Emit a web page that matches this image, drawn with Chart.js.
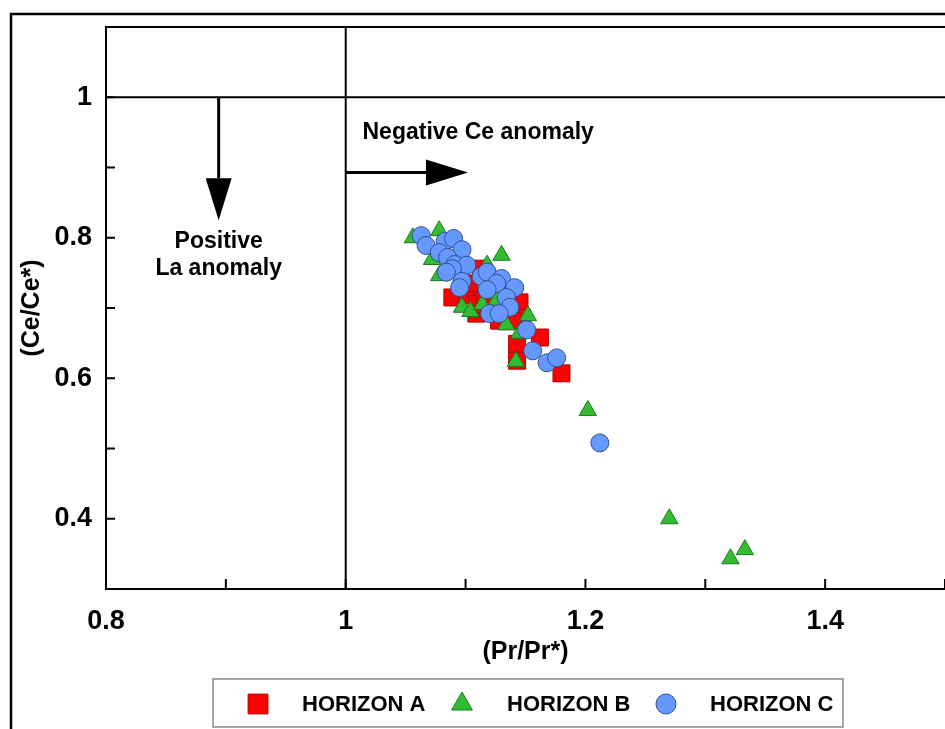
<!DOCTYPE html>
<html>
<head>
<meta charset="utf-8">
<script src="https://cdn.jsdelivr.net/npm/chart.js@4.4.1/dist/chart.umd.min.js"></script>
<style>
  html, body { margin: 0; padding: 0; background: #fff; }
  canvas { display: block; }
</style>
</head>
<body>
<canvas id="anomalyChart" width="945" height="729"></canvas>
<script>
// Pr/Pr* (x) and Ce/Ce* (y) per horizon
const horizonA_pr = [1.113, 1.089, 1.101, 1.109, 1.110, 1.128, 1.145, 1.147, 1.139, 1.162, 1.143, 1.143, 1.180, 1.103, 1.133, 1.116];
const horizonA_ce = [0.756, 0.715, 0.718, 0.692, 0.706, 0.682, 0.708, 0.686, 0.682, 0.658, 0.649, 0.625, 0.607, 0.735, 0.725, 0.711];

const horizonB_pr = [1.056, 1.078, 1.130, 1.072, 1.078, 1.118, 1.097, 1.104, 1.114, 1.126, 1.134, 1.152, 1.145, 1.142, 1.202, 1.270, 1.321, 1.333];
const horizonB_ce = [0.800, 0.810, 0.775, 0.769, 0.746, 0.761, 0.701, 0.695, 0.705, 0.711, 0.676, 0.689, 0.664, 0.624, 0.554, 0.400, 0.343, 0.356];

const horizonC_pr = [1.063, 1.067, 1.083, 1.090, 1.097, 1.078, 1.085, 1.091, 1.101, 1.089, 1.084, 1.097, 1.095, 1.113,
                     1.118, 1.130, 1.126, 1.118, 1.141, 1.134, 1.137, 1.120, 1.128, 1.151, 1.156, 1.168, 1.176, 1.212];
const horizonC_ce = [0.803, 0.789, 0.795, 0.799, 0.783, 0.779, 0.772, 0.762, 0.761, 0.756, 0.751, 0.738, 0.729, 0.745,
                     0.751, 0.742, 0.735, 0.726, 0.729, 0.715, 0.701, 0.692, 0.692, 0.669, 0.639, 0.622, 0.629, 0.508];

const seriesNames = ['HORIZON A', 'HORIZON B', 'HORIZON C'];

// labelled tick values (minor ticks every 0.1 stay unlabelled)
const xTickValues = [0.8, 1.0, 1.2, 1.4];
const xTickLabels = ['0.8', '1', '1.2', '1.4'];
const yTickValues = [0.4, 0.6, 0.8, 1.0];
const yTickLabels = ['0.4', '0.6', '0.8', '1'];

// reference lines at 1 and the anomaly arrows
const prReference = 1.0;
const ceReference = 1.0;
const laArrow = { pr: 0.894, ceFrom: 1.0, ceTo: 0.825 };
const ceArrow = { ce: 0.893, prFrom: 1.0, prTo: 1.102 };

const FONT = '"Liberation Sans", Arial, Helvetica, sans-serif';
Chart.defaults.font.family = FONT;

function zip(xs, ys) {
    return xs.map((x, i) => ({ x: x, y: ys[i] }));
}

function tickLabel(values, labels) {
    return function(value) {
        const i = values.findIndex(v => Math.abs(v - value) < 1e-6);
        return i >= 0 ? labels[i] : '';
    };
}

const STYLES = [
    { pointStyle: 'rect',     radius: 12, bg: '#ff0000', border: '#b00000' },
    { pointStyle: 'triangle', radius: 10, bg: '#33bb33', border: '#1d7a1d' },
    { pointStyle: 'circle',   radius: 9,  bg: '#6699ff', border: '#34508f' }
];

function drawArrow(ctx, x1, y1, x2, y2) {
    const headLen = 42, headHalf = 13;
    const ang = Math.atan2(y2 - y1, x2 - x1);
    const bx = x2 - headLen * Math.cos(ang);
    const by = y2 - headLen * Math.sin(ang);
    ctx.beginPath();
    ctx.moveTo(x1, y1);
    ctx.lineTo(bx, by);
    ctx.lineWidth = 3;
    ctx.stroke();
    ctx.beginPath();
    ctx.moveTo(x2, y2);
    ctx.lineTo(bx - headHalf * Math.sin(ang), by + headHalf * Math.cos(ang));
    ctx.lineTo(bx + headHalf * Math.sin(ang), by - headHalf * Math.cos(ang));
    ctx.closePath();
    ctx.fill();
}

// frame, reference lines, inward ticks, arrows and notes
const decorPlugin = {
    id: 'decor',
    beforeDraw(chart) {
        const ctx = chart.ctx;
        ctx.save();
        ctx.fillStyle = '#fff';
        ctx.fillRect(0, 0, chart.width, chart.height);
        ctx.restore();
    },
    beforeDatasetsDraw(chart) {
        const { ctx, chartArea: a, scales: { x, y } } = chart;
        ctx.save();
        ctx.strokeStyle = '#000';
        ctx.fillStyle = '#000';

        // inward ticks every 0.1
        ctx.lineWidth = 2;
        ctx.beginPath();
        x.ticks.forEach(t => {
            const px = x.getPixelForValue(t.value);
            ctx.moveTo(px, a.bottom);
            ctx.lineTo(px, a.bottom - 10);
        });
        y.ticks.forEach(t => {
            const py = y.getPixelForValue(t.value);
            ctx.moveTo(a.left, py);
            ctx.lineTo(a.left + 9, py);
        });
        ctx.stroke();

        // reference lines
        const px1 = x.getPixelForValue(prReference);
        const py1 = y.getPixelForValue(ceReference);
        ctx.beginPath();
        ctx.moveTo(px1, a.top);
        ctx.lineTo(px1, a.bottom);
        ctx.moveTo(a.left, py1);
        ctx.lineTo(a.right, py1);
        ctx.stroke();

        // plot border
        ctx.lineWidth = 2;
        ctx.strokeRect(a.left, a.top, a.right - a.left + 2, a.bottom - a.top);

        // arrows
        drawArrow(ctx, x.getPixelForValue(laArrow.pr), y.getPixelForValue(laArrow.ceFrom),
                       x.getPixelForValue(laArrow.pr), y.getPixelForValue(laArrow.ceTo));
        drawArrow(ctx, x.getPixelForValue(ceArrow.prFrom), y.getPixelForValue(ceArrow.ce),
                       x.getPixelForValue(ceArrow.prTo), y.getPixelForValue(ceArrow.ce));

        // notes
        ctx.font = 'bold 23px ' + FONT;
        ctx.textBaseline = 'middle';
        ctx.textAlign = 'left';
        ctx.fillText('Negative Ce anomaly', x.getPixelForValue(1.014), y.getPixelForValue(0.950));
        ctx.textAlign = 'center';
        ctx.fillText('Positive', x.getPixelForValue(laArrow.pr), y.getPixelForValue(0.795));
        ctx.fillText('La anomaly', x.getPixelForValue(laArrow.pr), y.getPixelForValue(0.756));
        ctx.restore();
    },
    afterDraw(chart) {
        const ctx = chart.ctx;
        ctx.save();
        // outer figure frame
        ctx.strokeStyle = '#000';
        ctx.lineWidth = 2.5;
        ctx.strokeRect(11, 14, chart.width + 20, chart.height + 20);

        // boxed legend along the bottom
        ctx.strokeStyle = '#8a8a8a';
        ctx.lineWidth = 1.5;
        ctx.strokeRect(213, 679, 630, 48);
        const markerX = [258, 462, 666];
        const textX = [302, 507, 710];
        const legendRadius = [14, 12, 10];
        ctx.font = 'bold 22px ' + FONT;
        ctx.textBaseline = 'middle';
        ctx.textAlign = 'left';
        seriesNames.forEach((name, i) => {
            const s = STYLES[i];
            ctx.fillStyle = s.bg;
            ctx.strokeStyle = s.border;
            ctx.lineWidth = 1;
            Chart.helpers.drawPoint(ctx, { pointStyle: s.pointStyle, radius: legendRadius[i], borderWidth: 1, rotation: 0 },
                                    markerX[i], 704);
            ctx.fillStyle = '#000';
            ctx.fillText(name, textX[i], 705);
        });
        ctx.restore();
    }
};

const allSeries = [
    zip(horizonA_pr, horizonA_ce),
    zip(horizonB_pr, horizonB_ce),
    zip(horizonC_pr, horizonC_ce)
];

// circles sit on top, then triangles, then squares
const drawOrder = [2, 1, 0];

const datasets = allSeries.map((data, i) => ({
    label: seriesNames[i],
    data: data,
    order: drawOrder[i],
    pointStyle: STYLES[i].pointStyle,
    pointRadius: STYLES[i].radius,
    pointHoverRadius: STYLES[i].radius,
    backgroundColor: STYLES[i].bg,
    borderColor: STYLES[i].border,
    borderWidth: 1
}));

new Chart(document.getElementById('anomalyChart'), {
    type: 'scatter',
    data: { datasets },
    options: {
        responsive: false,
        animation: false,
        events: [],
        layout: {
            autoPadding: false,
            padding: { left: 0, right: 0, top: 27, bottom: 50 }
        },
        plugins: {
            legend: { display: false },
            tooltip: { enabled: false }
        },
        scales: {
            x: {
                type: 'linear',
                min: 0.8,
                max: 1.5,
                afterFit: s => {
                    s.height = 90;
                    s.paddingLeft = 0;
                    s.paddingRight = 0;
                },
                grid: { display: false },
                border: { display: false },
                ticks: {
                    stepSize: 0.1,
                    autoSkip: false,
                    maxRotation: 0,
                    padding: 8,
                    color: '#000',
                    font: { size: 27, weight: 'bold' },
                    callback: tickLabel(xTickValues, xTickLabels)
                },
                title: {
                    display: true,
                    text: '(Pr/Pr*)',
                    color: '#000',
                    font: { size: 25, weight: 'bold' },
                    padding: { top: 0, bottom: 12 }
                }
            },
            y: {
                type: 'linear',
                min: 0.3,
                max: 1.1,
                afterFit: s => {
                    s.width = 106;
                    s.paddingTop = 0;
                    s.paddingBottom = 0;
                },
                grid: { display: false },
                border: { display: false },
                ticks: {
                    stepSize: 0.1,
                    autoSkip: false,
                    padding: 6,
                    color: '#000',
                    font: { size: 27, weight: 'bold' },
                    callback: tickLabel(yTickValues, yTickLabels)
                },
                title: {
                    display: true,
                    text: '(Ce/Ce*)',
                    color: '#000',
                    font: { size: 25, weight: 'bold' },
                    padding: { top: 17, bottom: 0 }
                }
            }
        }
    },
    plugins: [decorPlugin]
});
</script>
</body>
</html>
